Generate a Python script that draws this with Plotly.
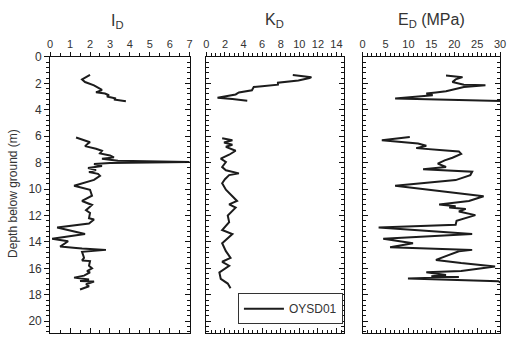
import plotly.graph_objects as go

# ---------------- data (depth in m) ----------------
id_depth = [1.35, 1.7, 1.9, 2.15, 2.5, 2.68, 2.77, 2.9, 3.0, 3.15, 3.22, 3.35, None,
            6.1, 6.45, 6.55, 6.75, 6.95, 7.1, 7.3, 7.45, 7.6, 7.7, 7.85, 7.95, 8.02, 8.1,
            8.25, 8.4, 8.55, 8.7, 8.85, 9.0, 9.3, 9.75, 10.05, 10.5, 10.9, 11.2, 11.6,
            11.8, 12.2, 12.3, 12.6, 12.9, 13.4, 13.75, 13.95, 14.35, 14.45, 14.5, 14.6,
            14.75, 15.2, 15.4, 15.45, 15.8, 16.0, 16.2, 16.3, 16.55, 16.7, 16.85, 16.95,
            17.0, 17.2, 17.35, 17.6]
id_val = [2.0, 1.6, 1.75, 2.2, 2.6, 2.3, 2.75, 2.95, 2.85, 3.3, 3.2, 3.8, None,
          1.3, 2.0, 1.9, 1.75, 2.3, 2.6, 2.5, 3.0, 3.2, 2.6, 3.4, 7.0, 3.0, 2.2,
          2.6, 1.9, 2.3, 1.95, 2.4, 2.5, 2.2, 1.2, 2.0, 2.1, 1.6, 2.1, 1.8,
          2.0, 1.95, 2.2, 1.95, 0.35, 1.75, 0.1, 0.9, 0.5, 1.3, 1.6, 2.8,
          1.6, 1.7, 1.6, 2.0, 1.95, 2.1, 1.85, 2.0, 1.7, 1.2, 1.95, 1.5,
          2.2, 1.8, 1.95, 1.5]

kd_depth = [1.36, 1.46, 1.53, 1.6, 1.78, 1.95, 2.1, 2.22, 2.27, 2.52, 2.69, 2.84, 3.09, 3.19, 3.31, None,
            6.15, 6.3, 6.48, 6.64, 6.8, 7.1, 7.4, 7.7, 7.95, 8.33, 8.58, 8.81, 8.94, 9.25, 9.56,
            10.05, 10.54, 10.9, 11.16, 11.4, 12.0, 12.5, 13.1, 13.4, 14.1, 14.7, 15.2, 15.5,
            15.8, 16.3, 16.8, 17.15, 17.5]
kd_val = [9.3, 10.7, 11.3, 11.1, 9.9, 7.7, 7.7, 6.0, 5.1, 4.9, 3.5, 3.15, 1.2, 2.8, 4.4, None,
          1.7, 2.8, 1.9, 2.8, 2.1, 3.15, 2.45, 1.55, 2.1, 1.7, 2.1, 3.5, 2.45, 2.0, 1.7,
          2.1, 2.8, 3.3, 2.45, 3.15, 2.3, 2.45, 1.7, 2.8, 1.7, 2.1, 2.6, 1.7,
          2.45, 1.4, 1.55, 2.3, 2.6]

ed_depth = [1.41, 1.53, 1.7, 1.9, 2.1, 2.15, 2.27, 2.44, 2.6, 2.69, 2.77, 2.89, 2.94, 3.14, 3.33, None,
            6.05, 6.3, 6.55, 6.72, 6.9, 7.0, 7.08, 7.15, 7.33, 7.63, 7.83, 8.07, 8.33, 8.5, 8.69,
            8.94, 9.19, 9.32, 9.75, 10.2, 10.54, 10.9, 11.16, 11.3, 11.4, 11.5, 11.7, 11.97,
            12.4, 12.7, 12.9, 13.4, 13.75, 14.1, 14.4, 14.6, 14.7, 15.36, 15.6, 15.85, 16.2,
            16.3, 16.5, 16.6, 16.65, 16.77, 16.97, 17.46]
ed_val = [18.2, 21.8, 20.3, 19.6, 22.1, 26.8, 22.1, 20.3, 18.2, 16.0, 13.9, 15.3, 13.5, 7.1, 30.5, None,
          10.3, 4.2, 12.1, 13.9, 11.7, 14.6, 18.2, 21.0, 21.5, 19.6, 17.9, 16.4, 18.2, 13.2, 23.9,
          23.5, 21.5, 20.3, 7.1, 18.2, 26.4, 23.2, 16.7, 20.3, 18.9, 22.5, 21.0, 24.6,
          20.5, 20.3, 3.5, 23.9, 4.5, 11.0, 6.0, 23.9, 21.0, 16.0, 21.5, 28.9, 21.5,
          13.9, 18.2, 15.0, 21.0, 9.9, 29.6, 31.8]

series_name = "OYSD01"
panel_titles = ["I<sub>D</sub>", "K<sub>D</sub>", "E<sub>D</sub> (MPa)"]
y_title = "Depth below ground (m)"

# ---------------- layout helpers ----------------
W, H = 513, 339
def px(x):
    return x / W
def py(y):
    return 1 - y / H
def sfx(n):
    return "" if n == 1 else str(n)

FONT = "Liberation Sans, Arial, sans-serif"
AX = "#111111"
TXT = "#333333"
LINE = "#1c1c1c"

panels = [
    dict(dom=(48, 190), rng=[0, 7], dtick=1, minor=0.5),
    dict(dom=(207, 347), rng=[0, 14.8], dtick=2, minor=0.5),
    dict(dom=(366, 506), rng=[0, 30], dtick=5, minor=1),
]
ydom = [py(333), py(51)]
yrng = [20.9, 0]

fig = go.Figure()
data = [(id_val, id_depth), (kd_val, kd_depth), (ed_val, ed_depth)]
for i, (xv, yv) in enumerate(data):
    n = i + 1
    fig.add_trace(go.Scatter(
        x=xv, y=yv, mode="lines", name=series_name,
        line=dict(color=LINE, width=2),
        showlegend=(i == 1), connectgaps=False,
        xaxis=f"x{sfx(n)}", yaxis=f"y{sfx(n)}"))

layout = dict(
    width=W, height=H, margin=dict(l=0, r=0, t=0, b=0),
    paper_bgcolor="white", plot_bgcolor="white",
    font=dict(family=FONT, size=11, color=TXT),
    showlegend=True,
    legend=dict(x=px(346), y=py(324), xanchor="right", yanchor="bottom",
                bordercolor="#333333", borderwidth=1, bgcolor="white",
                font=dict(size=12, color=TXT), itemwidth=40),
)

for i, p in enumerate(panels):
    n = i + 1
    s = sfx(n)
    dom = [px(p["dom"][0]), px(p["dom"][1])]
    layout[f"xaxis{s}"] = dict(
        domain=dom, range=p["rng"], side="top", anchor=f"y{s}",
        showline=True, linecolor=AX, showgrid=False, zeroline=False,
        ticks="outside", ticklen=4, tickcolor=AX, dtick=p["dtick"], tick0=0, tickangle=0,
        minor=dict(dtick=p["minor"], ticks="outside", ticklen=2.5, tickcolor=AX),
        tickfont=dict(size=11, color=TXT),
    )
    layout[f"xaxis{n+3}"] = dict(
        domain=dom, range=p["rng"], side="bottom", anchor=f"y{s}", overlaying=f"x{s}",
        showline=True, linecolor=AX, showgrid=False, zeroline=False,
        ticks="inside", ticklen=5, tickcolor=AX, dtick=p["dtick"], tick0=0,
        minor=dict(dtick=p["minor"], ticks="inside", ticklen=3, tickcolor=AX),
        showticklabels=False,
    )
    if n == 1:
        layout["yaxis"] = dict(
            domain=ydom, range=yrng, anchor="x",
            showline=True, linecolor=AX, showgrid=False, zeroline=False,
            ticks="outside", ticklen=5, tickcolor=AX, dtick=2, tick0=0,
            minor=dict(dtick=0.4, ticks="outside", ticklen=3, tickcolor=AX),
            tickfont=dict(size=12, color=TXT),
        )
        layout["yaxis4"] = dict(
            domain=ydom, range=yrng, anchor="x", overlaying="y", side="right",
            showline=True, linecolor=AX, showgrid=False, zeroline=False,
            ticks="inside", ticklen=5, tickcolor=AX, dtick=2, tick0=0,
            minor=dict(dtick=0.4, ticks="inside", ticklen=3, tickcolor=AX),
            showticklabels=False,
        )
    else:
        layout[f"yaxis{s}"] = dict(
            domain=ydom, range=yrng, anchor=f"x{s}",
            showline=True, linecolor=AX, showgrid=False, zeroline=False, mirror="ticks",
            ticks="inside", ticklen=5, tickcolor=AX, dtick=2, tick0=0,
            minor=dict(dtick=0.4, ticks="inside", ticklen=3, tickcolor=AX),
            showticklabels=False,
        )

fig.update_layout(**layout)

# invisible helper traces so the overlay axes render
for i, p in enumerate(panels):
    n = i + 1
    fig.add_trace(go.Scatter(x=[p["rng"][0]], y=[0], mode="markers",
                             marker=dict(opacity=0), hoverinfo="skip", showlegend=False,
                             xaxis=f"x{n+3}", yaxis=f"y{sfx(n)}"))
fig.add_trace(go.Scatter(x=[0], y=[0], mode="markers",
                         marker=dict(opacity=0), hoverinfo="skip", showlegend=False,
                         xaxis="x", yaxis="y4"))

title_pos = [(117, 15), (276, 14), (436, 14)]
for t, (tx, ty) in zip(panel_titles, title_pos):
    fig.add_annotation(text=t, x=px(tx), y=py(ty), xref="paper", yref="paper",
                       showarrow=False, font=dict(size=16, color=TXT),
                       xanchor="center", yanchor="middle")

fig.add_annotation(text=y_title, x=px(10), y=py(190), xref="paper", yref="paper",
                   showarrow=False, textangle=-90, font=dict(size=12, color=TXT),
                   xanchor="center", yanchor="middle")

fig.write_html("out.html")
